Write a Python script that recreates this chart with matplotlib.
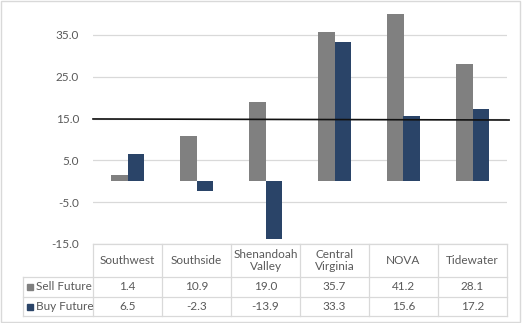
import matplotlib.pyplot as plt
import matplotlib.transforms as mtransforms
from matplotlib.patches import Rectangle
import numpy as np

regions = ["Southwest", "Southside", "Shenandoah\nValley", "Central\nVirginia", "NOVA", "Tidewater"]
sell_future = [1.4, 10.9, 19.0, 35.7, 41.2, 28.1]
buy_future = [6.5, -2.3, -13.9, 33.3, 15.6, 17.2]
series_names = ["Sell Future", "Buy Future"]
reference_level = 15.0

gray = "#808080"
navy = "#2a4468"
text_color = "#595959"
line_color = "#d9d9d9"

plt.rcParams["font.family"] = ["Lato", "DejaVu Sans"]

W, H = 522, 323
fig = plt.figure(figsize=(W / 100, H / 100), dpi=100)


def fx(px):
    return px / W


def fy(py):
    return 1 - py / H


# plot area in pixel terms
left, right, top, bottom = 93, 507, 14, 244
ax = fig.add_axes([fx(left), fy(bottom), fx(right) - fx(left), fy(top) - fy(bottom)])

x = np.arange(len(regions))
w = 0.232
ax.bar(x - w / 2, sell_future, w, color=gray, zorder=2)
ax.bar(x + w / 2, buy_future, w, color=navy, zorder=2)

ax.set_xlim(-0.5, len(regions) - 0.5)
ax.set_ylim(-15, 40)
ax.set_yticks(np.arange(-15, 40, 10))
ax.set_yticklabels([f"{v:.1f}" for v in np.arange(-15, 40, 10)])
ax.yaxis.grid(True, color=line_color, lw=0.9, zorder=0)
ax.tick_params(axis="y", length=0, pad=10, labelsize=8.5, labelcolor=text_color)
ax.set_xticks([])
for s in ax.spines.values():
    s.set_visible(False)

# reference line across the plot
ax.plot([-0.5, len(regions) - 0.47], [reference_level - 0.1, reference_level - 0.35],
        color="#111111", lw=1.2, zorder=3, clip_on=False)

# data table underneath
trans = mtransforms.blended_transform_factory(ax.transData, fig.transFigure)
rows = [244, 277, 297, 316]
label_left = 23
kw = dict(color=line_color, lw=0.9, transform=fig.transFigure, clip_on=False)
fig.add_artist(plt.Line2D([fx(left), fx(right)], [fy(rows[0])] * 2, **kw))
for r in rows[1:]:
    fig.add_artist(plt.Line2D([fx(label_left), fx(right)], [fy(r)] * 2, **kw))
for i in range(len(regions) + 1):
    xb = ax.transData.transform((i - 0.5, 0))[0]
    xb = fig.transFigure.inverted().transform((xb, 0))[0]
    fig.add_artist(plt.Line2D([xb, xb], [fy(rows[0]), fy(rows[-1])], **kw))
fig.add_artist(plt.Line2D([fx(label_left)] * 2, [fy(rows[1]), fy(rows[-1])], **kw))

for i, name in enumerate(regions):
    fig.text(i, fy((rows[0] + rows[1]) / 2), name, transform=trans, ha="center", va="center",
             fontsize=8.5, color=text_color, linespacing=1.1)
    fig.text(i, fy((rows[1] + rows[2]) / 2), f"{sell_future[i]:.1f}", transform=trans,
             ha="center", va="center", fontsize=8.5, color=text_color)
    fig.text(i, fy((rows[2] + rows[3]) / 2), f"{buy_future[i]:.1f}", transform=trans,
             ha="center", va="center", fontsize=8.5, color=text_color)

for k, (name, c) in enumerate(zip(series_names, [gray, navy])):
    yc = (rows[k + 1] + rows[k + 2]) / 2
    fig.add_artist(Rectangle((fx(27), fy(yc + 3)), fx(6), fy(0) - fy(6), color=c,
                             transform=fig.transFigure))
    fig.text(fx(36), fy(yc), name, ha="left", va="center", fontsize=8.5, color=text_color)

# outer chart border
fig.add_artist(Rectangle((fx(1), fy(322)), fx(519), fy(0) - fy(321), fill=False,
                         edgecolor=line_color, lw=1, transform=fig.transFigure))

fig.savefig("out.png", dpi=100)
